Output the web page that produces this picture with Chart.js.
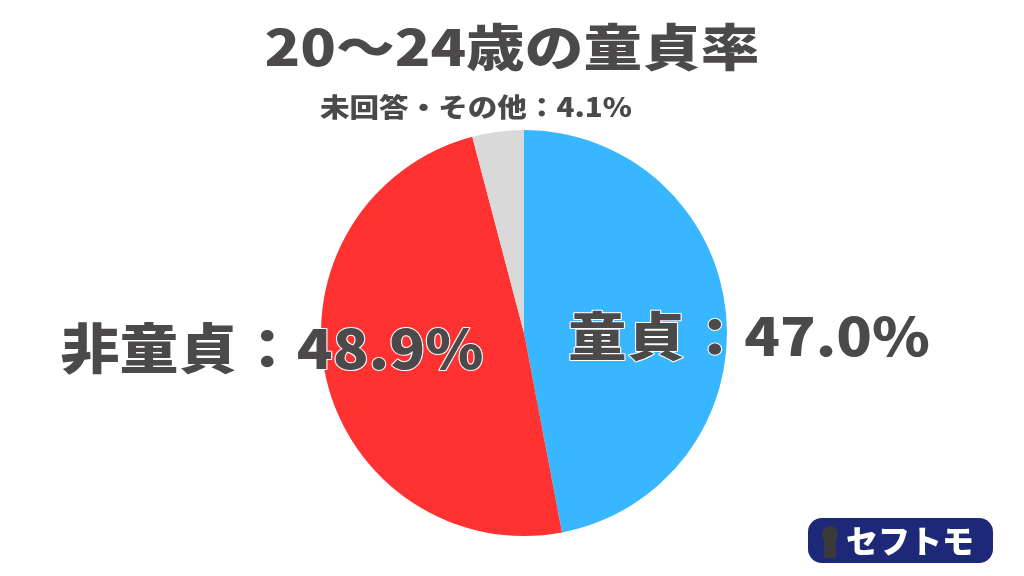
<!DOCTYPE html>
<html lang="ja">
<head>
<meta charset="utf-8">
<script src="https://cdn.jsdelivr.net/npm/chart.js@4/dist/chart.umd.min.js"></script>
<style>
    html, body { margin: 0; padding: 0; background: #fff; }
    #wrap { position: relative; width: 1024px; height: 576px; }
</style>
</head>
<body>
<div id="wrap"><canvas id="pieChart" width="1024" height="576"></canvas></div>
<script>
// Data
const labels = ['童貞', '非童貞', '未回答・その他'];
const values = [47.0, 48.9, 4.1];
const colors = ['#38b6ff', '#ff3131', '#d9d9d9'];
const titleText = '20〜24歳の童貞率';

const TEXT = '#4b4949';
const FONT = '"Noto Sans CJK JP", "Noto Sans", sans-serif';

// draw text stretched to a target width with thin white outline
function drawLabel(ctx, text, cx, cy, size, targetW, stroke) {
    ctx.save();
    ctx.font = '900 ' + size + 'px ' + FONT;
    ctx.textAlign = 'center';
    ctx.textBaseline = 'middle';
    const w = ctx.measureText(text).width;
    const sx = targetW ? targetW / w : 1;
    ctx.translate(cx, cy);
    ctx.scale(sx, 1);
    if (stroke) {
        ctx.lineJoin = 'round';
        ctx.lineWidth = stroke;
        ctx.strokeStyle = '#ffffff';
        ctx.strokeText(text, 0, 0);
    }
    ctx.fillStyle = TEXT;
    ctx.fillText(text, 0, 0);
    ctx.restore();
}

const textPlugin = {
    id: 'textPlugin',
    afterDraw(chart) {
        const ctx = chart.ctx;
        drawLabel(ctx, titleText, 512, 47, 50, 495, 0);
        drawLabel(ctx, labels[2] + '：' + values[2].toFixed(1) + '%', 476, 107, 26, 312, 0);
        drawLabel(ctx, labels[1] + '：' + values[1].toFixed(1) + '%', 272, 348, 54, 423, 2);
        drawLabel(ctx, labels[0] + '：' + values[0].toFixed(1) + '%', 749, 336, 52, 362, 2);

        // logo
        ctx.save();
        ctx.fillStyle = '#1d2878';
        ctx.beginPath();
        ctx.roundRect(808, 518, 185, 45, 14);
        ctx.fill();
        ctx.fillStyle = '#3a3a3a';
        ctx.beginPath();
        ctx.arc(830, 534, 8, 0, Math.PI * 2);
        ctx.fill();
        ctx.fillRect(824, 540, 12, 18);
        ctx.fillStyle = '#ffffff';
        ctx.font = '900 32px ' + FONT;
        ctx.textAlign = 'center';
        ctx.textBaseline = 'middle';
        ctx.fillText('セフトモ', 910, 541);
        ctx.restore();
    }
};

new Chart(document.getElementById('pieChart'), {
    type: 'pie',
    data: {
        labels: labels,
        datasets: [{
            data: values,
            backgroundColor: colors,
            borderWidth: 0
        }]
    },
    options: {
        responsive: false,
        animation: false,
        layout: { padding: { left: 321, right: 297, top: 130, bottom: 40 } },
        plugins: {
            legend: { display: false },
            tooltip: { enabled: false }
        }
    },
    plugins: [textPlugin]
});
</script>
</body>
</html>
